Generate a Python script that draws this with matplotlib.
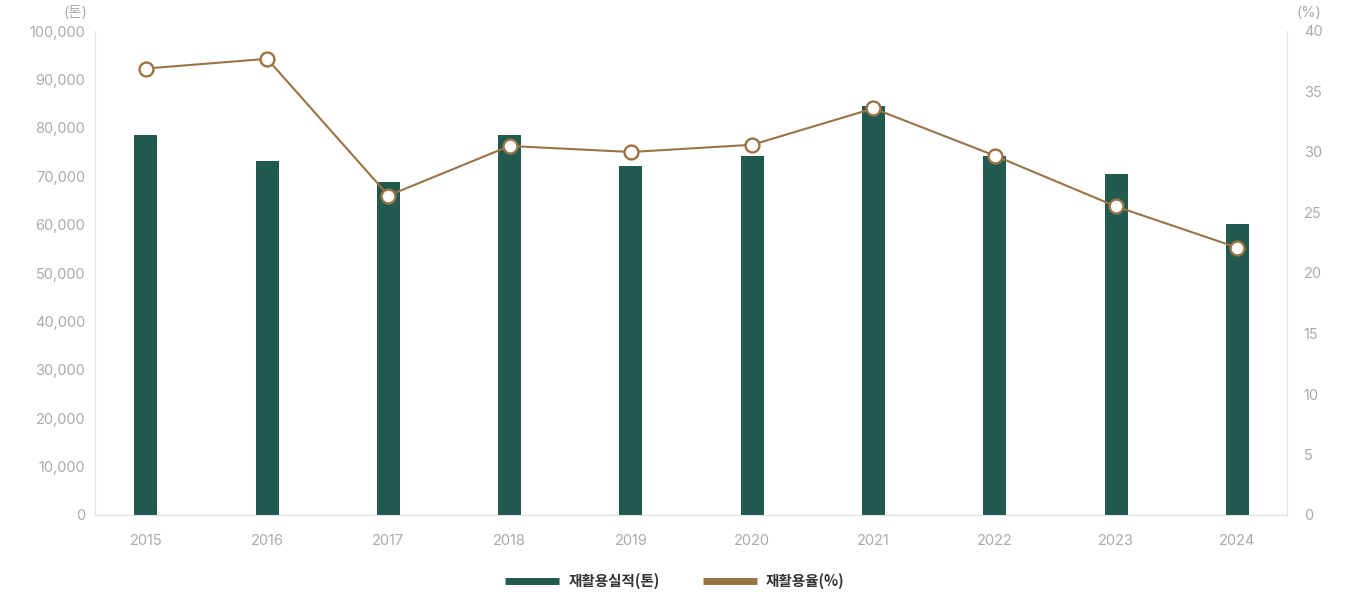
import numpy as np
import matplotlib
matplotlib.use("Agg")
import matplotlib.pyplot as plt
import matplotlib.ticker as ticker
from matplotlib.lines import Line2D

plt.rcParams['font.family'] = ['Inter', 'Noto Sans CJK KR', 'DejaVu Sans']

# data
years = ["2015", "2016", "2017", "2018", "2019", "2020", "2021", "2022", "2023", "2024"]
recycle_ton = [78600, 73200, 68900, 78500, 72200, 74200, 84600, 74200, 70400, 60100]
recycle_rate = [36.9, 37.7, 26.4, 30.5, 30.0, 30.6, 33.6, 29.7, 25.5, 22.1]

bar_color = "#215a4f"
line_color = "#9a7345"
grey = "#aaaaaa"
axis_grey = "#e0e0e0"

fig = plt.figure(figsize=(13.5, 6), dpi=100)
ax = fig.add_axes([95 / 1350, 85 / 600, 1192 / 1350, 484 / 600])
ax2 = ax.twinx()

x = np.arange(len(years))
ax.bar(x, recycle_ton, width=0.19, color=bar_color, zorder=2)
ax2.plot(x, recycle_rate, color=line_color, lw=1.5, marker="o", ms=10,
         mfc="white", mec=line_color, mew=1.7, zorder=3)

ax.set_xlim(-0.42, 9.41)
ax.set_ylim(0, 100000)
ax2.set_ylim(0, 40)
ax.set_xticks(x)
ax.set_xticklabels(years)
ax.set_yticks(np.arange(0, 100001, 10000))
ax2.set_yticks(np.arange(0, 41, 5))
ax.yaxis.set_major_formatter(ticker.FuncFormatter(lambda v, p: f"{int(v):,}"))

for a in (ax, ax2):
    for s in a.spines.values():
        s.set_visible(False)
    a.tick_params(length=0, colors=grey, labelsize=10.5)
ax.spines['left'].set_visible(True)
ax.spines['left'].set_color(axis_grey)
ax.spines['bottom'].set_visible(True)
ax.spines['bottom'].set_color(axis_grey)
ax2.spines['right'].set_visible(True)
ax2.spines['right'].set_color(axis_grey)
ax.tick_params(axis='y', pad=7)
ax.tick_params(axis='x', pad=14)
ax2.tick_params(axis='y', pad=12)

fig.text(88 / 1350, 1 - 13 / 600, "(톤)", color=grey, fontsize=10.5, ha="right", va="center")
fig.text(1297 / 1350, 1 - 13 / 600, "(%)", color=grey, fontsize=10.5, ha="left", va="center")

handles = [Line2D([], [], color=bar_color, lw=5, solid_capstyle="butt"),
           Line2D([], [], color=line_color, lw=5, solid_capstyle="butt")]
fig.legend(handles, ["재활용실적(톤)", "재활용율(%)"], loc="center",
           bbox_to_anchor=(675 / 1350, 1 - 581 / 600), ncol=2, frameon=False,
           handlelength=3.7, columnspacing=3.0, handletextpad=0.6,
           prop={"family": ["Noto Sans CJK KR", "DejaVu Sans"], "size": 10.5, "weight": "bold"},
           labelcolor="#333333")

fig.savefig("out.png", dpi=100)
